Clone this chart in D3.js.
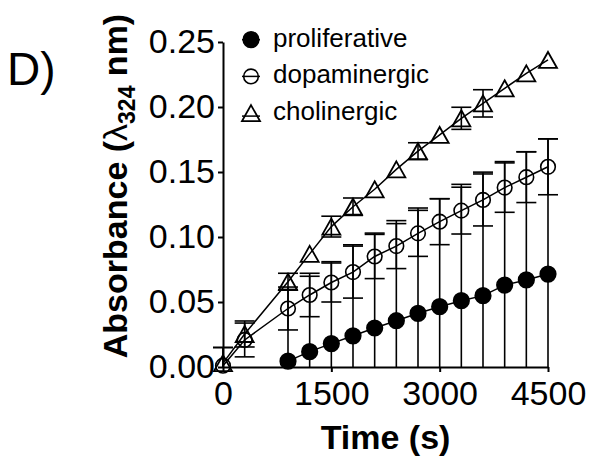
<!DOCTYPE html>
<html>
<head>
<meta charset="utf-8">
<script src="https://cdn.jsdelivr.net/npm/d3@7"></script>
<style>
  body { margin: 0; background: #fff; }
  text { font-family: Arial, 'Liberation Sans', Helvetica, sans-serif; fill: #000; }
  .axis path, .axis line { stroke: #000; stroke-width: 2px; }
</style>
</head>
<body>
<svg width="590" height="461"></svg>
<script>
// time points (s)
const times = [0, 300, 900, 1200, 1500, 1800, 2100, 2400, 2700, 3000, 3300, 3600, 3900, 4200, 4500]
const prolifTimes = [900, 1200, 1500, 1800, 2100, 2400, 2700, 3000, 3300, 3600, 3900, 4200, 4500]

const prolifMean = [0.0045, 0.0118, 0.018, 0.024, 0.030, 0.0356, 0.0413, 0.0464, 0.051, 0.0549, 0.063, 0.067, 0.0715]
const prolifSd = [0.055, 0.058, 0.063, 0.070, 0.073, 0.077, 0.081, 0.083, 0.0895, 0.095, 0.095, 0.0986, 0.104]

const dopaMean = [0.001, 0.0208, 0.045, 0.0554, 0.065, 0.073, 0.085, 0.093, 0.1028, 0.1118, 0.1203, 0.1285, 0.138, 0.146, 0.154]
const dopaSd = [0.014, 0.013, 0.0165, 0.0167, 0.015, 0.020, 0.017, 0.0173, 0.0177, 0.0177, 0.018, 0.020, 0.019, 0.0195, 0.0215]

const cholMean = [0.003, 0.0254, 0.0656, 0.087, 0.108, 0.1233, 0.1367, 0.152, 0.166, 0.1785, 0.1913, 0.2028, 0.2144, 0.2259, 0.2362]
const cholSd = [0.012, 0.010, 0.0065, 0.004, 0.008, 0.0067, 0.005, 0.005, 0.0065, 0.006, 0.0085, 0.0105, 0.004, 0.003, 0.003]

const seriesNames = ['proliferative', 'dopaminergic', 'cholinergic']
const xTicks = [0, 1500, 3000, 4500]
const yTicks = [0, 0.05, 0.10, 0.15, 0.20, 0.25]

const svg = d3.select('svg')
const width = +svg.attr('width')
const height = +svg.attr('height')
const margin = { top: 42, right: 42, bottom: 94, left: 223 }

const xScale = d3.scaleLinear().domain([0, 4500]).range([margin.left, width - margin.right])
const yScale = d3.scaleLinear().domain([0, 0.25]).range([height - margin.bottom, margin.top])

const series = [
  { name: seriesNames[0], shape: 'filled', data: prolifTimes.map((t, i) => ({ t, m: prolifMean[i], sd: prolifSd[i] })) },
  { name: seriesNames[1], shape: 'circle', data: times.map((t, i) => ({ t, m: dopaMean[i], sd: dopaSd[i] })) },
  { name: seriesNames[2], shape: 'triangle', data: times.map((t, i) => ({ t, m: cholMean[i], sd: cholSd[i] })) }
]

// axes
svg.append('g')
  .attr('class', 'axis')
  .attr('transform', `translate(0, ${yScale(0)})`)
  .call(d3.axisBottom(xScale).tickValues(xTicks).tickFormat(d3.format('d')).tickSize(5).tickPadding(9).tickSizeOuter(0))
  .selectAll('text')
  .style('font-size', '34px')

svg.append('g')
  .attr('class', 'axis')
  .attr('transform', `translate(${xScale(0)}, 0)`)
  .call(d3.axisLeft(yScale).tickValues(yTicks).tickFormat(d3.format('.2f')).tickSize(5).tickPadding(3).tickSizeOuter(0))
  .selectAll('text')
  .style('font-size', '34px')

const capW = 10
const drawMarker = (sel, shape) => {
  if (shape === 'triangle') {
    sel.append('path')
      .attr('d', 'M0,-8 L9,8 L-9,8 Z')
      .attr('fill', 'none')
      .attr('stroke', '#000')
      .attr('stroke-width', 1.8)
  } else {
    sel.append('circle')
      .attr('r', shape === 'filled' ? 7.8 : 7.3)
      .attr('fill', shape === 'filled' ? '#000' : 'none')
      .attr('stroke', '#000')
      .attr('stroke-width', 1.6)
  }
}

const plot = svg.append('g')

// error bars shorter than the symbol are not drawn
const visible = d => yScale(d.m) - yScale(d.m + d.sd) >= 8

series.forEach(s => {
  const eb = plot.append('g')
    .selectAll('g')
    .data(s.data.filter(visible))
    .join('g')
  eb.append('line')
    .attr('x1', d => xScale(d.t))
    .attr('x2', d => xScale(d.t))
    .attr('y1', d => yScale(Math.max(0, d.m - d.sd)))
    .attr('y2', d => yScale(d.m + d.sd))
    .attr('stroke', '#000')
    .attr('stroke-width', 1.6)
  eb.append('line')
    .attr('x1', d => xScale(d.t) - capW)
    .attr('x2', d => xScale(d.t) + capW)
    .attr('y1', d => yScale(d.m + d.sd))
    .attr('y2', d => yScale(d.m + d.sd))
    .attr('stroke', '#000')
    .attr('stroke-width', 1.6)
  eb.filter(d => d.m - d.sd > 0)
    .append('line')
    .attr('x1', d => xScale(d.t) - capW)
    .attr('x2', d => xScale(d.t) + capW)
    .attr('y1', d => yScale(d.m - d.sd))
    .attr('y2', d => yScale(d.m - d.sd))
    .attr('stroke', '#000')
    .attr('stroke-width', 1.6)
})

series.forEach(s => {
  plot.append('path')
    .datum(s.data)
    .attr('fill', 'none')
    .attr('stroke', '#000')
    .attr('stroke-width', 1.5)
    .attr('d', d3.line().x(d => xScale(d.t)).y(d => yScale(d.m)))

  const pts = plot.append('g')
    .selectAll('g')
    .data(s.data)
    .join('g')
    .attr('transform', d => `translate(${xScale(d.t)}, ${yScale(d.m)})`)
  drawMarker(pts, s.shape)
})

// legend
const legend = svg.append('g')
series.forEach((s, i) => {
  const base = 46.7 + i * 36.7
  const row = legend.append('g').attr('transform', `translate(251, ${base - 7})`)
  row.append('line')
    .attr('x1', -9).attr('x2', 9)
    .attr('y1', s.shape === 'triangle' ? 3 : 0)
    .attr('y2', s.shape === 'triangle' ? 3 : 0)
    .attr('stroke', '#000').attr('stroke-width', 1.5)
  drawMarker(row, s.shape)
  legend.append('text')
    .attr('x', 273)
    .attr('y', base)
    .style('font-size', '26px')
    .text(s.name)
})

// axis titles
svg.append('text')
  .attr('x', (xScale(0) + xScale(4500)) / 2)
  .attr('y', 449)
  .attr('text-anchor', 'middle')
  .style('font-size', '34px')
  .style('font-weight', 'bold')
  .text('Time (s)')

const yTitle = svg.append('text')
  .attr('transform', 'translate(127, 186) rotate(-90)')
  .attr('text-anchor', 'middle')
  .style('font-size', '34px')
  .style('font-weight', 'bold')
yTitle.append('tspan').text('Absorbance (')
yTitle.append('tspan').style('font-weight', 'normal').text('λ')
yTitle.append('tspan').attr('dy', 8).style('font-size', '23px').text('324')
yTitle.append('tspan').attr('dy', -8).text(' nm)')

svg.append('text')
  .attr('x', 7)
  .attr('y', 85)
  .style('font-size', '46px')
  .text('D)')
</script>
</body>
</html>
